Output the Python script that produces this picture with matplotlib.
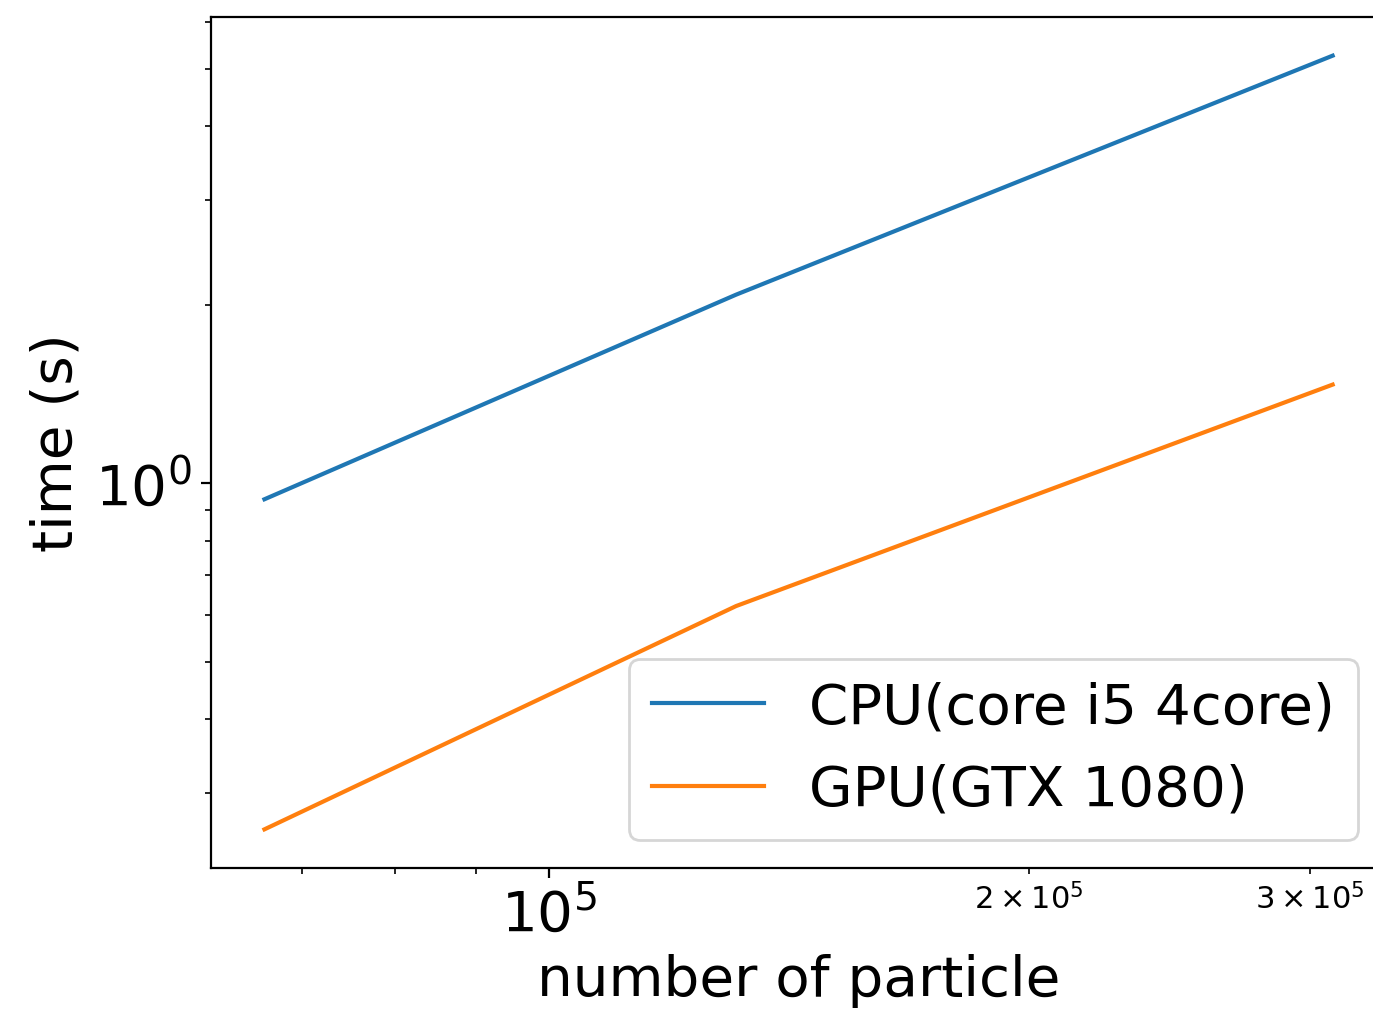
import numpy as np
from matplotlib import pyplot as plt

# number of particles and elapsed time (s)
n_particle = [66300, 131000, 310000]
t_cpu = [0.94, 2.08, 5.26]
t_gpu = [0.261, 0.621, 1.467]

fig = plt.figure(figsize=(13.73 / 2, 10.11 / 2), dpi=200)
ax = fig.add_axes([0.1537, 0.1414, 1.0095 - 0.1537, 0.9832 - 0.1414])

ax.plot(n_particle, t_cpu, label="CPU(core i5 4core)")
ax.plot(n_particle, t_gpu, label="GPU(GTX 1080)")
ax.set_xscale("log")
ax.set_yscale("log")

ax.set_xlabel("number of particle", fontsize=20.3)
ax.set_ylabel("time (s)", fontsize=20.3)
ax.tick_params(axis="both", which="major", labelsize=20.3)
ax.tick_params(axis="x", which="minor", labelsize=11)
ax.legend(fontsize=20.3, loc="lower right")

plt.savefig("out.png", dpi=200)
